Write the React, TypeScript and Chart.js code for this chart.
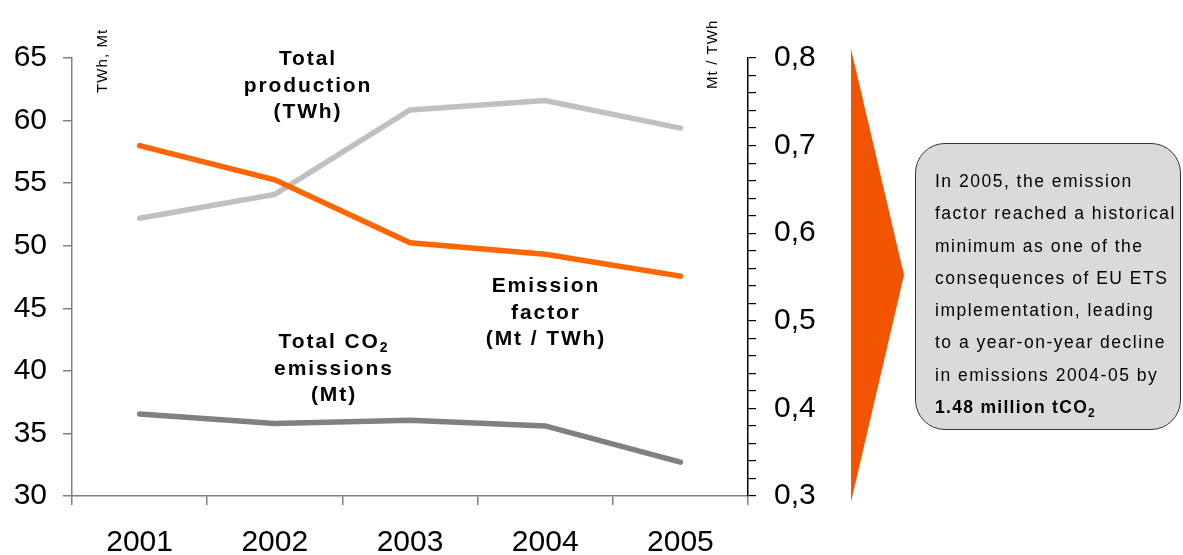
import React, { useEffect, useRef } from "react";
import { Chart, registerables } from "chart.js";

Chart.register(...registerables);

const years = ["2001", "2002", "2003", "2004", "2005"];
const production = [52.2, 54.1, 60.85, 61.6, 59.4];
const emissions = [36.55, 35.8, 36.05, 35.6, 32.7];
const emissionFactor = [0.7, 0.661, 0.589, 0.576, 0.551];

const leftTicks = { min: 30, max: 65, step: 5 };
const rightTicks = { min: 0.3, max: 0.8, step: 0.02 };

const FONT = "'Liberation Sans', Arial, sans-serif";
const ORANGE_LINE = "#ff6600";
const ORANGE_ARROW = "#f25400";

export default function App() {
  const ref = useRef<HTMLCanvasElement | null>(null);

  useEffect(() => {
    if (!ref.current) return;
    const chart = new Chart(ref.current, {
      type: "line",
      data: {
        labels: years,
        datasets: [
          {
            label: "Total production (TWh)",
            data: production,
            borderColor: "#c0c0c0",
            borderWidth: 5.5,
            pointRadius: 0,
            yAxisID: "y",
            order: 3,
            borderCapStyle: "round",
          },
          {
            label: "Total CO2 emissions (Mt)",
            data: emissions,
            borderColor: "#808080",
            borderWidth: 5.5,
            pointRadius: 0,
            yAxisID: "y",
            order: 2,
            borderCapStyle: "round",
          },
          {
            label: "Emission factor (Mt / TWh)",
            data: emissionFactor,
            borderColor: ORANGE_LINE,
            borderWidth: 5.5,
            pointRadius: 0,
            yAxisID: "y1",
            order: 1,
            borderCapStyle: "round",
          },
        ],
      },
      options: {
        responsive: false,
        animation: false,
        layout: { padding: { left: 0, top: 58, right: 345, bottom: 0 } },
        plugins: { legend: { display: false }, tooltip: { enabled: false } },
        scales: {
          x: {
            type: "category",
            offset: true,
            grid: {
              offset: true,
              drawOnChartArea: false,
              drawTicks: true,
              tickLength: 9,
              color: "#808080",
              lineWidth: 1.5,
            },
            border: { color: "#808080", width: 1.5 },
            ticks: {
              font: { family: FONT, size: 30 },
              color: "#000",
              padding: 20,
              maxRotation: 0,
            },
            afterFit: (s: any) => {
              s.height = 59;
            },
          },
          y: {
            position: "left",
            min: leftTicks.min,
            max: leftTicks.max,
            ticks: {
              stepSize: leftTicks.step,
              font: { family: FONT, size: 30 },
              color: "#000",
              padding: 16,
              autoSkip: false,
            },
            grid: {
              drawOnChartArea: false,
              tickLength: 9,
              color: "#808080",
              lineWidth: 1.5,
            },
            border: { color: "#808080", width: 1.5 },
            afterFit: (s: any) => {
              s.width = 72;
            },
          },
          y1: {
            position: "right",
            min: rightTicks.min,
            max: rightTicks.max,
            ticks: {
              stepSize: rightTicks.step,
              font: { family: FONT, size: 30 },
              color: "#000",
              padding: 18,
              autoSkip: false,
              callback: (value: any) => {
                const v = Math.round(Number(value) * 100);
                return v % 10 === 0 ? (v / 100).toFixed(1).replace(".", ",") : "";
              },
            },
            grid: {
              drawOnChartArea: false,
              tickLength: 8,
              color: "#000",
              lineWidth: 1.2,
            },
            border: { color: "#000", width: 1.5 },
            afterFit: (s: any) => {
              s.width = 90;
            },
          },
        },
      },
    });
    return () => chart.destroy();
  }, []);

  const label: React.CSSProperties = {
    position: "absolute",
    fontFamily: FONT,
    fontWeight: "bold",
    fontSize: 21,
    letterSpacing: "1.9px",
    lineHeight: "26.5px",
    textAlign: "center",
    color: "#000",
    whiteSpace: "nowrap",
    transform: "translateX(-50%)",
  };

  const axisTitle: React.CSSProperties = {
    position: "absolute",
    fontFamily: FONT,
    fontSize: 15,
    letterSpacing: "1.1px",
    color: "#000",
    whiteSpace: "nowrap",
    transformOrigin: "left top",
    transform: "rotate(-90deg)",
  };

  return (
    <div style={{ position: "absolute", left: 0, top: 0, width: 1183, height: 555, background: "#fff", overflow: "hidden" }}>
      <canvas ref={ref} width={1183} height={555} style={{ position: "absolute", left: 0, top: 0 }} />
      <div style={{ ...axisTitle, left: 93, top: 93 }}>TWh, Mt</div>
      <div style={{ ...axisTitle, left: 703, top: 89 }}>Mt / TWh</div>
      <div style={{ ...label, left: 308, top: 45 }}>
        Total
        <br />
        production
        <br />
        (TWh)
      </div>
      <div style={{ ...label, left: 546, top: 272 }}>
        Emission
        <br />
        factor
        <br />
        (Mt / TWh)
      </div>
      <div style={{ ...label, left: 334, top: 328 }}>
        Total CO<sub style={{ fontSize: 14, verticalAlign: "-4px", lineHeight: 0 }}>2</sub>
        <br />
        emissions
        <br />
        (Mt)
      </div>
      <svg style={{ position: "absolute", left: 0, top: 0 }} width={1183} height={555}>
        <polygon points="851,49 904,275 851,502" fill={ORANGE_ARROW} />
      </svg>
      <div
        style={{
          position: "absolute",
          left: 915,
          top: 143,
          width: 266,
          height: 287,
          boxSizing: "border-box",
          border: "1.5px solid #333",
          borderRadius: 30,
          background: "#dadada",
          paddingTop: 21,
          paddingLeft: 19,
          fontFamily: FONT,
          fontSize: 17.5,
          letterSpacing: "1.5px",
          lineHeight: "32.3px",
          color: "#000",
          whiteSpace: "nowrap",
        }}
      >
        In 2005, the emission
        <br />
        factor reached a historical
        <br />
        minimum as one of the
        <br />
        consequences of EU ETS
        <br />
        implementation, leading
        <br />
        to a year-on-year decline
        <br />
        in emissions 2004-05 by
        <br />
        <b style={{ letterSpacing: "1.3px" }}>
          1.48 million tCO<sub style={{ fontSize: 12, verticalAlign: "-4px", lineHeight: 0 }}>2</sub>
        </b>
      </div>
    </div>
  );
}
